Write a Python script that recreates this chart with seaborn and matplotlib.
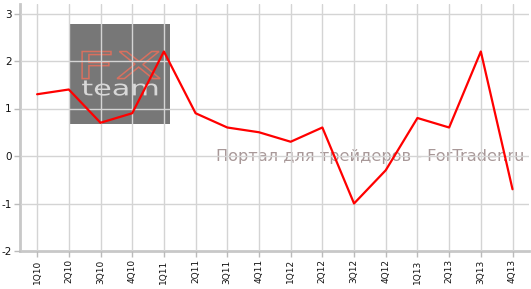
import matplotlib
matplotlib.use("Agg")
import matplotlib.pyplot as plt
import seaborn as sns
import pandas as pd
from matplotlib.patches import Rectangle, PathPatch
from matplotlib.textpath import TextPath
from matplotlib.font_manager import FontProperties
from matplotlib.transforms import Affine2D

quarters = ["1Q10", "2Q10", "3Q10", "4Q10", "1Q11", "2Q11", "3Q11", "4Q11",
            "1Q12", "2Q12", "3Q12", "4Q12", "1Q13", "2Q13", "3Q13", "4Q13"]
values = [1.3, 1.4, 0.7, 0.9, 2.2, 0.9, 0.6, 0.5,
          0.3, 0.6, -1.0, -0.3, 0.8, 0.6, 2.2, -0.7]
y_ticks = [-2, -1, 0, 1, 2, 3]

sns.set_theme(style="white")
plt.rcParams['font.family'] = ['DejaVu Sans']

df = pd.DataFrame({"pos": list(range(len(quarters))), "value": values})

fig = plt.figure(figsize=(5.31, 2.89), dpi=100)
ax = fig.add_axes([20/531, 1 - 251/289, 509/531, 247/289])


def fit_text(ax, s, x0, x1, y0, y1, **kw):
    tp = TextPath((0, 0), s, size=1, prop=FontProperties(family="DejaVu Sans"))
    ext = tp.get_extents()
    tr = (Affine2D().translate(-ext.x0, -ext.y0)
          .scale((x1 - x0) / ext.width, (y1 - y0) / ext.height)
          .translate(x0, y0))
    p = tr.transform_path(tp)
    ax.add_patch(PathPatch(p, **kw))


# logo box
ax.add_patch(Rectangle((1.0, 0.67), 3.2, 2.11, facecolor="#777777",
                       edgecolor="none", zorder=0.5))
fit_text(ax, "FX", 1.42, 3.88, 1.63, 2.2, facecolor="none",
         edgecolor="#d8705f", linewidth=1.1, zorder=0.6)
fit_text(ax, "team", 1.42, 3.79, 1.27, 1.59, facecolor="#d8d8d8",
         edgecolor="none", zorder=0.6)

sns.lineplot(data=df, x="pos", y="value", color="#ff0000", linewidth=1.6,
             ax=ax, zorder=3)

ax.text(10.5, 0.0, "Портал для трейдеров - ForTrader.ru", color="#a89898",
        fontsize=11.6, ha="center", va="center", zorder=2)

ax.set_xlim(-0.54, 15.52)
ax.set_ylim(-2, 3.2)
ax.set_xticks(range(len(quarters)))
ax.set_xticklabels(quarters, rotation=90, fontsize=6.5, color="#111111")
ax.set_yticks(y_ticks)
ax.set_yticklabels([str(v) for v in y_ticks], fontsize=7.5, color="#111111")
ax.set_xlabel("")
ax.set_ylabel("")

ax.grid(True, color="#d4d4d4", linewidth=1.0, zorder=1)
ax.set_axisbelow(False)
for l in ax.get_xgridlines() + ax.get_ygridlines():
    l.set_zorder(1)

for side in ["top", "right"]:
    ax.spines[side].set_visible(False)
for side in ["left", "bottom"]:
    ax.spines[side].set_color("#c8c8c8")
    ax.spines[side].set_linewidth(2)
    ax.spines[side].set_zorder(2)

ax.tick_params(axis="both", which="both", length=4, width=1, color="#bbbbbb",
               pad=2, bottom=True, left=True)

fig.savefig("out.png", dpi=100)
